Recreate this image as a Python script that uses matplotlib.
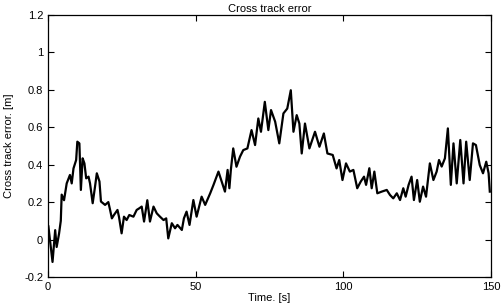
import numpy as np
import matplotlib.pyplot as plt

# time [s] and cross track error [m]
t = [0.1, 1.5, 2.4, 2.9, 3.7, 4.3, 4.6, 5.4, 6.3, 7.4, 8.0, 8.6, 9.5, 9.9, 10.6,
     11.1, 11.7, 12.3, 12.9, 13.7, 14.2, 15.1, 15.9, 16.5, 17.4, 17.9, 19.3, 20.4,
     21.0, 21.6, 22.3, 23.5, 24.0, 24.9, 25.7, 26.6, 27.5, 28.9, 30.0, 30.9, 31.7,
     32.5, 33.6, 34.5, 35.7, 36.8, 37.9, 39.1, 40.0, 40.7, 41.9, 43.0, 43.8, 45.3,
     46.0, 46.9, 47.9, 49.2, 50.3, 52.0, 53.2, 54.9, 56.0, 57.7, 58.8, 59.9, 60.8,
     61.4, 61.9, 62.7, 63.8, 65.0, 66.1, 67.5, 68.9, 70.1, 71.2, 72.1, 73.4, 74.6,
     75.5, 76.9, 78.3, 79.7, 81.0, 82.2, 83.1, 84.2, 85.1, 85.9, 87.0, 88.5, 90.4,
     91.9, 93.4, 94.6, 96.4, 97.7, 98.6, 99.7, 100.9, 102.2, 103.4, 104.7, 105.9,
     107.0, 107.7, 108.8, 109.6, 110.5, 111.5, 113.0, 114.7, 115.8, 116.9, 118.1,
     119.2, 120.3, 121.1, 122.1, 123.1, 123.9, 125.0, 125.9, 127.0, 128.0, 129.3,
     130.5, 131.6, 132.4, 133.3, 134.4, 135.4, 136.4, 137.3, 138.4, 139.6, 140.7,
     141.6, 142.8, 143.9, 144.9, 146.2, 147.3, 148.4, 149.2, 149.6]
err = [0.07, -0.12, 0.05, -0.04, 0.03, 0.10, 0.24, 0.21, 0.30, 0.345, 0.30, 0.38,
       0.425, 0.523, 0.514, 0.265, 0.434, 0.407, 0.327, 0.336, 0.30, 0.194, 0.283,
       0.354, 0.31, 0.203, 0.185, 0.20, 0.158, 0.113, 0.131, 0.158, 0.122, 0.033,
       0.122, 0.104, 0.131, 0.122, 0.158, 0.167, 0.176, 0.096, 0.21, 0.096, 0.176,
       0.14, 0.122, 0.104, 0.113, 0.006, 0.087, 0.06, 0.078, 0.051, 0.113, 0.149,
       0.078, 0.211, 0.122, 0.229, 0.185, 0.247, 0.291, 0.363, 0.309, 0.256, 0.372,
       0.274, 0.372, 0.487, 0.389, 0.443, 0.478, 0.487, 0.585, 0.505, 0.647, 0.576,
       0.736, 0.585, 0.692, 0.63, 0.514, 0.674, 0.70, 0.798, 0.576, 0.665, 0.62,
       0.46, 0.62, 0.487, 0.576, 0.496, 0.567, 0.46, 0.452, 0.38, 0.425, 0.318,
       0.407, 0.363, 0.372, 0.274, 0.31, 0.336, 0.292, 0.381, 0.274, 0.363, 0.247,
       0.256, 0.265, 0.238, 0.22, 0.247, 0.211, 0.274, 0.229, 0.292, 0.336, 0.211,
       0.318, 0.202, 0.283, 0.229, 0.407, 0.318, 0.363, 0.425, 0.39, 0.434, 0.594,
       0.292, 0.514, 0.30, 0.532, 0.30, 0.523, 0.318, 0.514, 0.505, 0.398, 0.354,
       0.416, 0.354, 0.256]

xticks = [0, 50, 100, 150]
yticks = [-0.2, 0, 0.2, 0.4, 0.6, 0.8, 1, 1.2]
ytick_labels = ['-0.2', '0', '0.2', '0.4', '0.6', '0.8', '1', '1.2']

plt.rcParams['font.family'] = ['Liberation Sans', 'DejaVu Sans']

fig = plt.figure(figsize=(5.01, 3.07), dpi=100)
ax = fig.add_axes([0.096, 0.098, 0.884, 0.853])

ax.plot(t, err, color='black', lw=1.6)

ax.set_xlim(0, 150)
ax.set_ylim(-0.2, 1.2)
ax.set_xticks(xticks)
ax.set_yticks(yticks)
ax.set_yticklabels(ytick_labels)
ax.tick_params(direction='in', top=True, right=True, labelsize=8, length=4, width=0.8)
for s in ax.spines.values():
    s.set_linewidth(0.9)

ax.set_title('Cross track error', fontsize=8, pad=2)
ax.set_xlabel('Time. [s]', fontsize=8, labelpad=1)
ax.set_ylabel('Cross track error. [m]', fontsize=8, labelpad=7)

fig.savefig('out.png', dpi=100)
